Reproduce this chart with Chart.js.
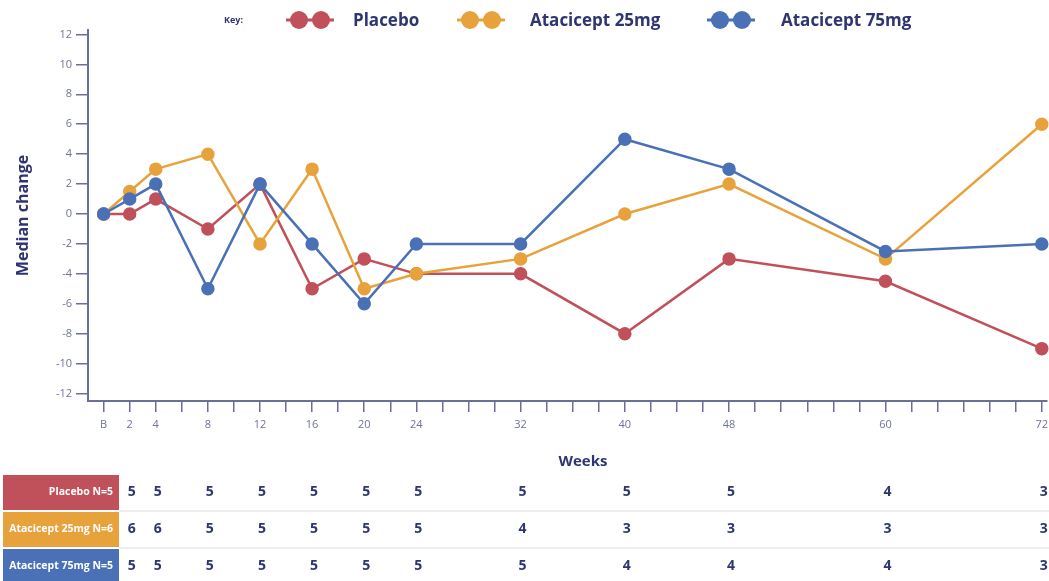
<!DOCTYPE html>
<html>
<head>
<meta charset="utf-8">
<title>Median change by week</title>
<script src="https://cdn.jsdelivr.net/npm/chart.js@4.4.1/dist/chart.umd.min.js"></script>
<style>
  html, body { margin: 0; padding: 0; background: #fff; }
  #wrap { width: 1049px; height: 581px; }
</style>
</head>
<body>
<div id="wrap"><canvas id="myChart" width="1049" height="581"></canvas></div>
<script>
// weeks on the x axis (B = baseline)
const weeks = [0, 2, 4, 8, 12, 16, 20, 24, 32, 40, 48, 60, 72];
const weekLabels = ["B", "2", "4", "8", "12", "16", "20", "24", "32", "40", "48", "60", "72"];

// median change per group
const placebo = [0, 0, 1, -1, 2, -5, -3, -4, -4, -8, -3, -4.5, -9];
const atacicept25 = [0, 1.5, 3, 4, -2, 3, -5, -4, -3, 0, 2, -3, 6];
const atacicept75 = [0, 1, 2, -5, 2, -2, -6, -2, -2, 5, 3, -2.5, -2];

const yTicks = [-12, -10, -8, -6, -4, -2, 0, 2, 4, 6, 8, 10, 12];

// patients remaining, table under the chart
const nWeeks = [2, 4, 8, 12, 16, 20, 24, 32, 40, 48, 60, 72];
const placeboN = [5, 5, 5, 5, 5, 5, 5, 5, 5, 5, 4, 3];
const atacicept25N = [6, 6, 5, 5, 5, 5, 5, 4, 3, 3, 3, 3];
const atacicept75N = [5, 5, 5, 5, 5, 5, 5, 5, 4, 4, 4, 3];
const tableLabels = ["Placebo N=5", "Atacicept 25mg N=6", "Atacicept 75mg N=5"];

const seriesNames = ["Placebo", "Atacicept 25mg", "Atacicept 75mg"];

const RED = "#c0505a";
const ORANGE = "#e8a23b";
const BLUE = "#4a70b5";
const NAVY = "#2f3570";
const AXIS = "#6b6f96";
const TICK_TEXT = "#6e7399";
const FONT = "'Open Sans', 'Noto Sans', sans-serif";

function toPoints(values) {
  return weeks.map((w, i) => ({ x: w, y: values[i] }));
}

function makeDataset(label, values, color, order) {
  return {
    label: label,
    data: toPoints(values),
    borderColor: color,
    backgroundColor: color,
    pointBackgroundColor: color,
    pointBorderColor: color,
    borderWidth: 2.5,
    pointRadius: 5.5,
    pointHoverRadius: 5.5,
    tension: 0,
    clip: false,
    order: order,
  };
}

// legend, "Weeks" label and the N table are drawn here
const extrasPlugin = {
  id: "extras",
  afterDraw(chart) {
    const ctx = chart.ctx;
    const xScale = chart.scales.x;
    ctx.save();

    // key
    ctx.fillStyle = NAVY;
    ctx.textBaseline = "middle";
    ctx.textAlign = "left";
    ctx.font = "bold 9px " + FONT;
    ctx.fillText("Key:", 224, 20);

    const keyStarts = [286, 457, 707];
    const textStarts = [353, 530, 781];
    chart.data.datasets.forEach((ds, i) => {
      const x = keyStarts[i];
      ctx.strokeStyle = ds.borderColor;
      ctx.fillStyle = ds.borderColor;
      ctx.lineWidth = 3;
      ctx.beginPath();
      ctx.moveTo(x, 20);
      ctx.lineTo(x + 48, 20);
      ctx.stroke();
      [x + 13, x + 35].forEach((cx) => {
        ctx.beginPath();
        ctx.arc(cx, 20, 9, 0, Math.PI * 2);
        ctx.fill();
      });
      ctx.fillStyle = NAVY;
      ctx.font = "bold 17px " + FONT;
      ctx.fillText(ds.label, textStarts[i], 21);
    });

    // x axis title
    ctx.font = "bold 15px " + FONT;
    ctx.textAlign = "center";
    ctx.fillStyle = NAVY;
    ctx.fillText("Weeks", 583, 462);

    // N table
    const rows = [
      { label: tableLabels[0], color: RED, values: placeboN },
      { label: tableLabels[1], color: ORANGE, values: atacicept25N },
      { label: tableLabels[2], color: BLUE, values: atacicept75N },
    ];
    rows.forEach((row, i) => {
      const top = 475 + i * 37;
      const h = 35;
      ctx.fillStyle = row.color;
      ctx.fillRect(3, top, 116, h);
      ctx.fillStyle = "#ffffff";
      ctx.textAlign = "right";
      ctx.font = "bold 10.5px " + FONT;
      ctx.fillText(row.label, 113, top + h / 2);

      ctx.fillStyle = NAVY;
      ctx.textAlign = "center";
      ctx.font = "bold 14px " + FONT;
      row.values.forEach((v, j) => {
        ctx.fillText(String(v), xScale.getPixelForValue(nWeeks[j]) + 2, top + h / 2);
      });

      if (i < rows.length - 1) {
        ctx.strokeStyle = "#eeeeee";
        ctx.lineWidth = 2;
        ctx.beginPath();
        ctx.moveTo(119, top + h + 1);
        ctx.lineTo(1049, top + h + 1);
        ctx.stroke();
      }
    });

    ctx.restore();
  },
};

const ctx = document.getElementById("myChart").getContext("2d");
const myChart = new Chart(ctx, {
  type: "line",
  data: {
    datasets: [
      makeDataset(seriesNames[0], placebo, RED, 2),
      makeDataset(seriesNames[1], atacicept25, ORANGE, 1),
      makeDataset(seriesNames[2], atacicept75, BLUE, 0),
    ],
  },
  plugins: [extrasPlugin],
  options: {
    responsive: false,
    animation: false,
    layout: {
      autoPadding: false,
      padding: { left: 0, top: 30, right: 2, bottom: 110 },
    },
    plugins: {
      legend: { display: false },
      tooltip: { enabled: false },
    },
    scales: {
      x: {
        type: "linear",
        min: -1.2,
        max: 72.4,
        afterFit(scale) {
          scale.height = 70;
          scale.paddingLeft = 0;
          scale.paddingRight = 0;
        },
        afterBuildTicks(scale) {
          const t = [];
          for (let w = 0; w <= 72; w += 2) t.push({ value: w });
          scale.ticks = t;
        },
        grid: {
          drawOnChartArea: false,
          drawTicks: true,
          tickLength: 11,
          color: AXIS,
          lineWidth: 1.5,
        },
        border: { display: true, color: AXIS, width: 2 },
        ticks: {
          autoSkip: false,
          maxRotation: 0,
          padding: 6,
          color: TICK_TEXT,
          font: { family: FONT, size: 11 },
          callback: (value) => {
            const i = weeks.indexOf(value);
            return i >= 0 ? weekLabels[i] : "";
          },
        },
      },
      y: {
        min: -12.5,
        max: 12.3,
        afterFit(scale) {
          scale.width = 88;
          scale.paddingTop = 0;
          scale.paddingBottom = 0;
        },
        afterBuildTicks(scale) {
          scale.ticks = yTicks.map((v) => ({ value: v }));
        },
        grid: {
          drawOnChartArea: false,
          drawTicks: true,
          tickLength: 12,
          color: AXIS,
          lineWidth: 1.5,
        },
        border: { display: true, color: AXIS, width: 2 },
        ticks: {
          padding: 4,
          color: TICK_TEXT,
          font: { family: FONT, size: 11 },
        },
        title: {
          display: true,
          text: "Median change",
          color: NAVY,
          font: { family: FONT, size: 16, weight: "bold" },
          padding: { top: 14, bottom: 0 },
        },
      },
    },
  },
});
</script>
</body>
</html>
